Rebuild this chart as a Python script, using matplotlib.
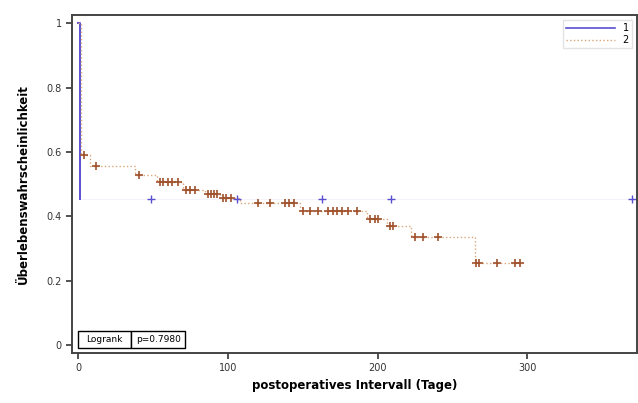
import matplotlib
matplotlib.use("Agg")
import matplotlib.pyplot as plt
import numpy as np

# Kaplan-Meier data
g1_times = [0, 1]
g1_surv = [1.0, 0.455]
g1_censor = [49, 106, 163, 209, 370]

g2_times = [0, 2, 8, 38, 53, 70, 85, 95, 108, 148, 193, 206, 222, 265]
g2_surv = [1.0, 0.59, 0.555, 0.53, 0.508, 0.483, 0.47, 0.458, 0.44,
           0.418, 0.393, 0.37, 0.337, 0.254]
g2_censor = [4, 12, 41, 55, 57, 60, 63, 67, 72, 75, 78, 87, 89, 91,
             93, 97, 99, 102, 120, 128, 138, 141, 144, 150, 155, 160,
             167, 170, 173, 176, 180, 186, 195, 198, 200, 208, 210,
             225, 230, 240, 266, 268, 280, 292, 295]
g2_end = 297
g1_end = 370

x_ticks = [0, 100, 200, 300]
y_ticks = [0, 0.2, 0.4, 0.6, 0.8, 1]
y_tick_labels = ["0", "0.2", "0.4", "0.6", "0.8", "1"]

blue = "#5a4fcf"
brown = "#a0522d"
light_brown = "#d9a77a"


def step_value(times, surv, t):
    idx = np.searchsorted(times, t, side="right") - 1
    return surv[idx]


fig = plt.figure(figsize=(6.38, 4.03), dpi=100)
ax = fig.add_axes([0.113, 0.124, 0.885, 0.838])

# group 1: the drop is drawn strong, the flat tail hardly shows
ax.step(g1_times, g1_surv, where="post", color=blue, lw=1.4)
ax.plot([g1_times[-1], g1_end], [g1_surv[-1], g1_surv[-1]],
        color=blue, lw=0.6, alpha=0.08)
ax.plot([], [], color=blue, lw=1.2, label="1")

ax.step(g2_times + [g2_end], g2_surv + [g2_surv[-1]], where="post",
        color=light_brown, lw=1.0, ls=":", label="2")

ax.plot(g1_censor, [step_value(g1_times, g1_surv, t) for t in g1_censor],
        ls="none", marker="+", color=blue, ms=6, mew=1.0)
ax.plot(g2_censor, [step_value(g2_times, g2_surv, t) for t in g2_censor],
        ls="none", marker="+", color=brown, ms=6, mew=1.2)

ax.set_xlim(-4, 373)
ax.set_ylim(-0.025, 1.025)
ax.set_xticks(x_ticks)
ax.set_yticks(y_ticks)
ax.set_yticklabels(y_tick_labels)
ax.tick_params(direction="out", length=4, width=1.2, labelsize=7,
               colors="#333333")

for spine in ax.spines.values():
    spine.set_linewidth(1.4)
    spine.set_color("#444444")

ax.set_xlabel("postoperatives Intervall (Tage)", fontsize=8.5,
              fontweight="bold", labelpad=4)
ax.set_ylabel("Überlebenswahrscheinlichkeit", fontsize=8.5,
              fontweight="bold", labelpad=12)

leg = ax.legend(loc="upper right", fontsize=7, frameon=True,
                fancybox=False, handlelength=5, borderpad=0.3,
                labelspacing=0.2)
leg.get_frame().set_edgecolor("#dddddd")

tbl = ax.table(cellText=[["Logrank", "p=0.7980"]],
               cellLoc="center",
               bbox=[0.01, 0.015, 0.19, 0.05])
tbl.auto_set_font_size(False)
tbl.set_fontsize(6.5)
for cell in tbl.get_celld().values():
    cell.set_linewidth(1.0)

fig.savefig("out.png", dpi=100)
